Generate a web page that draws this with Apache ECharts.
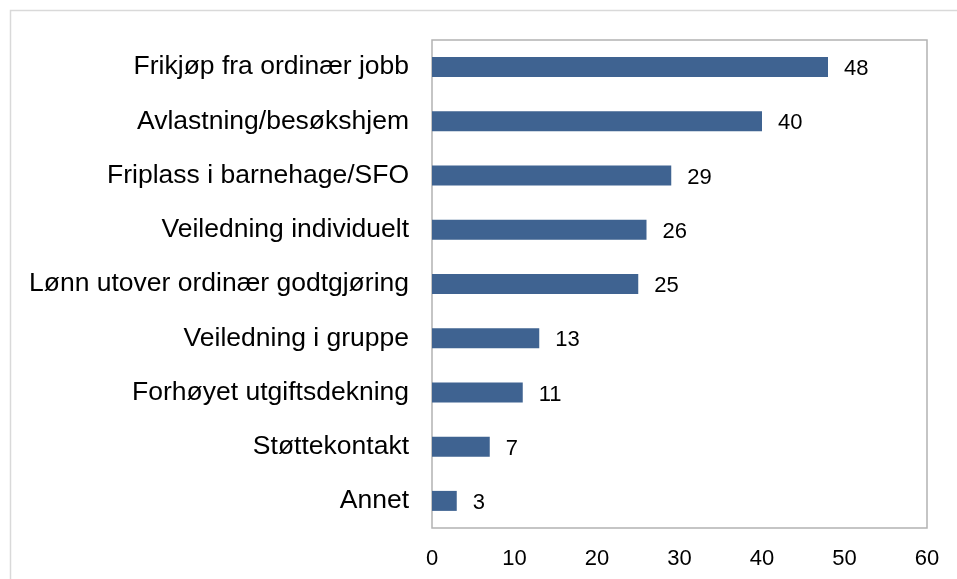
<!DOCTYPE html>
<html>
<head>
<meta charset="utf-8">
<script src="https://cdn.jsdelivr.net/npm/echarts@6/dist/echarts.min.js"></script>
<style>
  html, body { margin: 0; padding: 0; background: #fff; }
  #main { width: 957px; height: 579px; }
</style>
</head>
<body>
<div id="main"></div>
<script>
// kategorier, nederst først
var categories = ['Annet', 'Støttekontakt', 'Forhøyet utgiftsdekning', 'Veiledning i gruppe',
  'Lønn utover ordinær godtgjøring', 'Veiledning individuelt', 'Friplass i barnehage/SFO',
  'Avlastning/besøkshjem', 'Frikjøp fra ordinær jobb'];
var values = [3, 7, 11, 13, 25, 26, 29, 40, 48];
var xTicks = [0, 10, 20, 30, 40, 50, 60];

var chart = echarts.init(document.getElementById('main'), null, { renderer: 'canvas' });

var option = {
    animation: false,
    textStyle: { fontFamily: 'Liberation Sans, Arial, sans-serif' },
    graphic: [{
        type: 'rect',
        shape: { x: 10.5, y: 10.5, width: 970, height: 620 },
        style: { fill: 'none', stroke: '#d9d9d9', lineWidth: 1.5 },
        silent: true
    }],
    grid: {
        left: 432, top: 40, width: 495, height: 488,
        show: true, borderColor: '#b3b3b3', borderWidth: 1.5, backgroundColor: '#fff'
    },
    xAxis: {
        type: 'value',
        min: xTicks[0], max: xTicks[xTicks.length - 1], interval: 10,
        axisLine: { show: false },
        axisTick: { show: false },
        splitLine: { show: false },
        axisLabel: { color: '#000', fontSize: 22, margin: 20 }
    },
    yAxis: {
        type: 'category',
        data: categories,
        axisLine: { show: false },
        axisTick: { show: false },
        axisLabel: { color: '#000', fontSize: 26.5, margin: 23 }
    },
    series: [{
        type: 'bar',
        data: values,
        barWidth: 20,
        itemStyle: { color: '#3F6391' },
        label: {
            show: true, position: 'right', distance: 16, offset: [0, 2],
            color: '#000', fontSize: 22
        }
    }]
};

chart.setOption(option);
</script>
</body>
</html>
